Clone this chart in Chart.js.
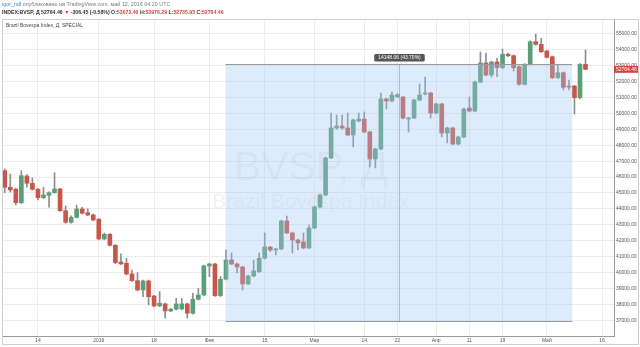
<!DOCTYPE html>
<html>
<head>
<meta charset="utf-8">
<script src="https://cdn.jsdelivr.net/npm/chart.js@4/dist/chart.umd.min.js"></script>
<style>
  html, body { margin: 0; padding: 0; background: #fff; }
  body { width: 640px; height: 347px; position: relative; overflow: hidden; font-family: "Liberation Sans", Arial, sans-serif; }
  .txt { position: absolute; white-space: nowrap; line-height: 1; }
  #wrap { position: absolute; left: 0; top: 0; width: 640px; height: 347px; }
</style>
</head>
<body>
<div id="wrap"><canvas id="out"></canvas></div>
<div class="txt" style="left:2px;top:2px;font-size:5.4px;color:#7a7a7a"><span style="color:#3a88cf">igor_ndl</span> опубликовано на TradingView.com, май 12, 2016 04:20 UTC</div>
<div class="txt" style="left:2px;top:10px;font-size:5.2px;font-weight:bold;color:#333">INDEX:BVSP, Д 52764.46 <span style="color:#d0453a">▼</span> -306.45 (-0.58%) O:<span style="color:#d0453a">53072.40</span> H:<span style="color:#d0453a">53976.29</span> L:<span style="color:#d0453a">52735.95</span> C:<span style="color:#d0453a">52764.46</span></div>
<div class="txt" style="left:6px;top:23px;font-size:5px;color:#444">Brazil Bovespa Index, Д, SPECIAL</div>
<script>
// daily candles, 14 Dec 2015 .. 11 May 2016 (bar index = position)
const opens = [46400, 45359, 45233, 44392, 46068, 45610, 45233, 44706, 44856, 45020,
  45252, 43890, 43162, 43475, 43996, 43764, 43620, 43350, 42113, 42408,
  41718, 40670, 40587, 39916, 39496, 38912, 39477, 38535, 37908, 38033,
  37594, 37701, 37720, 38033, 37449, 38328, 38598, 40419, 40544, 38554,
  39584, 40795, 40544, 40356, 39289, 39791, 40061, 40902, 41611, 41423,
  41486, 43243, 42490, 42050, 41925, 41549, 42804, 44122, 44875, 47198,
  49081, 49206, 49081, 48641, 49520, 49646, 48830, 47135, 47763, 50901,
  50776, 51040, 51027, 49646, 49708, 50838, 51215, 51278, 50022, 50587,
  48767, 49081, 48077, 48516, 50336, 50148, 51968, 53161, 52408, 53224,
  52866, 53707, 53619, 52929, 51824, 53079, 54498, 54335, 53914, 53556,
  52238, 52552, 51673, 51717, 50983, 53072.40];
const highs = [46507, 46193, 45300, 46400, 46150, 45961, 45280, 45359, 45070, 46275,
  45300, 44185, 43560, 44228, 44103, 44015, 43680, 43400, 42480, 42450,
  41760, 41172, 40902, 40167, 40000, 39530, 39530, 38580, 38805, 38090,
  37760, 38391, 38380, 38090, 38705, 39019, 40470, 40590, 40590, 39747,
  41423, 41234, 40600, 40400, 39850, 40795, 41234, 42490, 41650, 41530,
  43290, 43557, 42540, 42100, 42490, 42990, 44180, 44930, 47260, 50022,
  49897, 49897, 50022, 49640, 50022, 50085, 48880, 47820, 51278, 50950,
  51340, 51230, 51070, 49760, 50890, 51843, 52282, 51330, 50640, 50640,
  49130, 49130, 48570, 50330, 51027, 52030, 53851, 53788, 53280, 53456,
  54040, 53790, 53670, 52980, 53130, 54560, 54962, 54711, 53960, 53600,
  53079, 52600, 52090, 51760, 53130, 53976.29];
const lows = [45020, 45063, 44247, 44330, 45359, 45180, 44561, 44650, 44103, 44980,
  43840, 43100, 43110, 43420, 43680, 43570, 43250, 42050, 42060, 41660,
  40570, 40500, 39860, 39440, 38860, 38491, 37970, 37850, 37860, 37136,
  37540, 37650, 37660, 37136, 37400, 38280, 38550, 39747, 38500, 38500,
  39540, 40500, 39979, 38912, 39240, 39740, 40010, 40850, 41320, 41109,
  41440, 42440, 41234, 41423, 41500, 41500, 42750, 44070, 44820, 47150,
  48990, 49000, 48590, 47888, 49470, 48780, 46633, 46570, 47710, 50273,
  50720, 50990, 49650, 48830, 49660, 50790, 51160, 49708, 49970, 48520,
  48139, 48020, 48020, 48470, 50100, 50100, 51920, 52350, 52282, 52300,
  52810, 53560, 52659, 51770, 51770, 53030, 54280, 53820, 53470, 52180,
  52190, 51466, 51466, 49960, 50930, 52735.95];
const closes = [45359, 45189, 44392, 46087, 45610, 45233, 44706, 44875, 45020, 45252,
  43890, 43162, 43475, 43996, 43727, 43620, 43306, 42113, 42408, 41718,
  40626, 40544, 39916, 39496, 38912, 39477, 38491, 37908, 38077, 37594,
  37701, 38033, 38040, 37449, 38328, 38598, 40419, 40544, 38554, 39584,
  40795, 40544, 40356, 39289, 39791, 40105, 40902, 41611, 41423, 41486,
  43243, 42490, 42050, 41862, 41549, 42804, 44122, 44875, 47198, 49081,
  49206, 49081, 48641, 49583, 49646, 48830, 47135, 47763, 50901, 50776,
  51152, 51180, 49708, 49708, 50838, 51152, 51278, 50022, 50587, 48767,
  49081, 48077, 48516, 50273, 50148, 51968, 53161, 52408, 53224, 52866,
  53707, 53619, 52866, 51824, 53079, 54498, 54335, 53870, 53519, 52238,
  52552, 51636, 51650, 50983, 53079, 52764.46];

// date ticks (bar index -> label)
const tickIdx = [6, 17, 27, 37, 47, 56, 65, 71, 78, 84, 90, 98, 108];
const tickText = ["14", "2016", "18", "Фев", "15", "Мар", "14", "22", "Апр", "11", "19", "Май", "16"];
const priceTicks = [37000, 38000, 39000, 40000, 41000, 42000, 43000, 44000, 45000,
  46000, 47000, 48000, 49000, 50000, 51000, 52000, 53000, 54000, 55000];

// price range drawing
const rangeFrom = 39.9;
const rangeTo = 102.6;
const rangeTop = 53117;
const rangeBottom = 36985;
const rangeLabel = "14148.06 (43.70%)";
const lastPrice = 52764.46;

const upColor = "#5e9d79";
const downColor = "#c9564a";

const bodies = opens.map((o, i) => ({x: i, y: [o, closes[i]]}));
const wicks = lows.map((l, i) => ({x: i, y: [l, highs[i]]}));

const decorations = {
  id: "decorations",
  beforeDatasetsDraw(chart) {
    const {ctx, chartArea: a} = chart;
    const cx = (a.left + a.right) / 2 + 3;
    ctx.save();
    ctx.beginPath();
    ctx.rect(a.left, a.top, a.right - a.left, a.bottom - a.top);
    ctx.clip();
    ctx.fillStyle = "rgba(0,0,0,0.05)";
    ctx.textAlign = "center";
    ctx.textBaseline = "alphabetic";
    ctx.font = "41px 'Liberation Sans', Arial, sans-serif";
    ctx.fillText("BVSP, Д", cx, 180);
    ctx.font = "21px 'Liberation Sans', Arial, sans-serif";
    ctx.fillText("Brazil Bovespa Index", cx, 208);
    ctx.restore();
  },
  afterDatasetsDraw(chart) {
    const {ctx} = chart;
    const xs = chart.scales.x, ys = chart.scales.y;
    const x1 = xs.getPixelForValue(rangeFrom), x2 = xs.getPixelForValue(rangeTo);
    const y1 = Math.round(ys.getPixelForValue(rangeTop)) + 0.5;
    const y2 = Math.round(ys.getPixelForValue(rangeBottom)) + 0.5;
    const xm = Math.round((x1 + x2) / 2) + 0.5;
    ctx.save();
    ctx.fillStyle = "rgba(161,198,241,0.35)";
    ctx.fillRect(x1, y1, x2 - x1, y2 - y1);
    ctx.strokeStyle = "#9a9a9a";
    ctx.lineWidth = 1;
    ctx.beginPath();
    ctx.moveTo(x1, y1); ctx.lineTo(x2, y1);
    ctx.moveTo(x1, y2); ctx.lineTo(x2, y2);
    ctx.stroke();
    ctx.setLineDash([1, 1]);
    ctx.strokeStyle = "#888";
    ctx.beginPath();
    ctx.moveTo(xm, y1); ctx.lineTo(xm, y2);
    ctx.stroke();
    ctx.setLineDash([]);
    // label box
    ctx.font = "5px 'Liberation Sans', Arial, sans-serif";
    const w = ctx.measureText(rangeLabel).width + 8;
    ctx.fillStyle = "#555";
    ctx.beginPath();
    ctx.roundRect(xm - w / 2, y1 - 10.5, w, 7.5, 1.5);
    ctx.fill();
    ctx.fillStyle = "#fff";
    ctx.textAlign = "center";
    ctx.textBaseline = "middle";
    ctx.fillText(rangeLabel, xm, y1 - 6.6);
    ctx.restore();
  },
  afterDraw(chart) {
    const {ctx, chartArea: a} = chart;
    const ys = chart.scales.y;
    const yp = ys.getPixelForValue(lastPrice);
    ctx.save();
    ctx.fillStyle = "#d0453a";
    ctx.fillRect(a.right, yp - 3.5, 24, 7);
    ctx.fillStyle = "#fff";
    ctx.font = "5px 'Liberation Sans', Arial, sans-serif";
    ctx.textAlign = "left";
    ctx.textBaseline = "middle";
    ctx.fillText(lastPrice.toFixed(2), a.right + 2, yp + 0.3);
    ctx.strokeStyle = "#cfcfcf";
    ctx.lineWidth = 1;
    ctx.strokeRect(2.5, 19.5, 636, 325);
    ctx.restore();
  }
};

Chart.defaults.font.family = "'Liberation Sans', Arial, sans-serif";

const chartConfig = {
  type: "bar",
  data: {
    datasets: [
      {
        label: "wicks",
        data: wicks,
        barThickness: 1,
        backgroundColor: "#8e8e8e",
        grouped: false,
        order: 2
      },
      {
        label: "bodies",
        data: bodies,
        barThickness: 4,
        minBarLength: 1,
        grouped: false,
        order: 1,
        backgroundColor: ctx => {
          const i = ctx.dataIndex;
          return closes[i] >= opens[i] ? upColor : downColor;
        }
      }
    ]
  },
  plugins: [decorations],
  options: {
    responsive: true,
    maintainAspectRatio: false,
    animation: false,
    layout: {padding: {top: 19, left: 2, right: 0, bottom: 0}},
    plugins: {legend: {display: false}, tooltip: {enabled: false}},
    scales: {
      x: {
        type: "linear",
        min: -0.5,
        max: 110.15,
        offset: false,
        grid: {color: "#ededed", offset: false, drawTicks: false},
        border: {color: "#9a9a9a"},
        afterBuildTicks: s => { s.ticks = tickIdx.map(v => ({value: v})); },
        afterFit: s => { s.height = 11; },
        ticks: {
          autoSkip: false,
          maxRotation: 0,
          padding: 2,
          color: "#555",
          font: {size: 5},
          callback: v => tickText[tickIdx.indexOf(v)]
        }
      },
      y: {
        position: "right",
        min: 36020,
        max: 55925,
        grid: {color: "#ededed", drawTicks: true, tickLength: 1},
        border: {color: "#9a9a9a"},
        afterBuildTicks: s => { s.ticks = priceTicks.map(v => ({value: v})); },
        afterFit: s => { s.width = 26; },
        ticks: {
          padding: 1,
          color: "#555",
          font: {size: 5},
          callback: v => v.toFixed(2)
        }
      }
    }
  }
};

window.chart = new Chart(document.getElementById("out").getContext("2d"), chartConfig);
</script>
</body>
</html>
